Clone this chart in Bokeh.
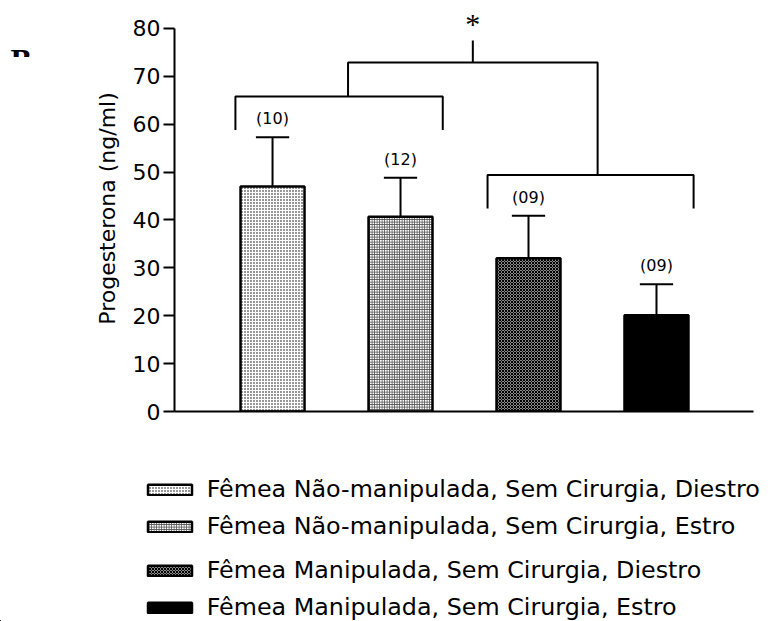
from bokeh.plotting import figure
from bokeh.layouts import column, row
from bokeh.models import (Range1d, FixedTicker, Legend, LegendItem,
                          ColumnDataSource)
from bokeh.core.properties import value
from bokeh.embed import file_html
from bokeh.resources import INLINE

# Serum progesterone per group (mean and SEM), with group sizes
groups = [
    "Fêmea Não-manipulada, Sem Cirurgia, Diestro",
    "Fêmea Não-manipulada, Sem Cirurgia, Estro",
    "Fêmea Manipulada, Sem Cirurgia, Diestro",
    "Fêmea Manipulada, Sem Cirurgia, Estro",
]
means = [47.0, 40.7, 32.0, 20.1]
sems = [10.3, 8.1, 8.9, 6.5]
n_labels = ["(10)", "(12)", "(09)", "(09)"]
y_ticks = [0, 10, 20, 30, 40, 50, 60, 70, 80]

FONT = "DejaVu Sans"
xs = [1, 2, 3, 4]
tops = [m + s for m, s in zip(means, sems)]

bar_styles = [
    dict(fill_color="white", hatch_pattern="dot", hatch_scale=3,
         hatch_weight=1, hatch_color="black"),
    dict(fill_color="white", hatch_pattern="cross", hatch_scale=2.5,
         hatch_weight=1, hatch_color="#555555"),
    dict(fill_color="#888888", hatch_pattern="diagonal_cross", hatch_scale=3,
         hatch_weight=1, hatch_color="black"),
    dict(fill_color="black"),
]

# ---- panel letter, cut by its own frame edge ----
pb = figure(frame_width=60, frame_height=57, output_backend="svg",
            toolbar_location=None, x_range=Range1d(0, 60),
            y_range=Range1d(57, 0), x_axis_type=None, y_axis_type=None,
            min_border=0, title=None)
pb.outline_line_color = None
pb.xgrid.visible = False
pb.ygrid.visible = False
pb.text(x=[10], y=[36.5], text=["B"], text_font=value("Liberation Serif"),
        text_font_style="bold", text_font_size="32px", text_align="left",
        text_baseline="top", text_color="black")

# ---- main bar chart ----
p = figure(width=711, height=430, output_backend="svg", toolbar_location=None,
           x_range=Range1d(0.234, 4.758), y_range=Range1d(0, 84.8),
           min_border_left=114, min_border_right=18, min_border_top=5,
           min_border_bottom=19)
p.outline_line_color = None
p.xgrid.visible = False
p.ygrid.visible = False

p.yaxis.ticker = FixedTicker(ticks=y_ticks)
p.yaxis.bounds = (0, 80)
p.yaxis.axis_line_width = 2
p.yaxis.major_tick_line_width = 2
p.yaxis.major_tick_out = 11
p.yaxis.major_tick_in = 0
p.yaxis.minor_tick_line_color = None
p.yaxis.major_label_text_font = FONT
p.yaxis.major_label_text_font_size = "22px"
p.yaxis.major_label_text_color = "black"
p.yaxis.major_label_standoff = 3
p.yaxis.axis_label = "Progesterona (ng/ml)"
p.yaxis.axis_label_text_font = FONT
p.yaxis.axis_label_text_font_size = "22px"
p.yaxis.axis_label_text_font_style = "normal"
p.yaxis.axis_label_text_color = "black"
p.yaxis.axis_label_standoff = 10

p.xaxis.ticker = FixedTicker(ticks=[])
p.xaxis.axis_line_width = 2
p.xaxis.major_tick_line_color = None
p.xaxis.minor_tick_line_color = None
p.xaxis.major_label_text_font_size = "0px"
p.xaxis.major_label_standoff = 0

for i in range(4):
    src = ColumnDataSource(dict(x=[xs[i]], top=[means[i]]))
    p.vbar(x="x", top="top", bottom=0, width=0.5, source=src,
           line_color="black", line_width=2.5, **bar_styles[i])

# upper error bars with caps
p.segment(x0=xs, y0=means, x1=xs, y1=tops, line_color="black", line_width=2)
p.segment(x0=[x - 0.13 for x in xs], y0=tops, x1=[x + 0.13 for x in xs],
          y1=tops, line_color="black", line_width=2)

# group sizes above the error bars
p.text(x=xs, y=tops, text=n_labels, text_font=value(FONT),
       text_font_size="16px", text_align="center", text_baseline="bottom",
       y_offset=-9, text_color="black")

# comparison brackets
lb_low = max(tops[0:2]) + 1.5
lb_high = lb_low + 7
lb_l, lb_r = xs[0] - 0.29, xs[1] + 0.33
rb_low = max(tops[2:4]) + 1.5
rb_high = rb_low + 7
rb_l, rb_r = xs[2] - 0.32, xs[3] + 0.29
tb_y = lb_high + 7.1
tb_l = (lb_l + lb_r) / 2 + 0.07
tb_r = (rb_l + rb_r) / 2 + 0.055
star_x = (tb_l + tb_r) / 2
stick_top = tb_y + 4.6

p.multi_line(
    xs=[[lb_l, lb_l, lb_r, lb_r],
        [rb_l, rb_l, rb_r, rb_r],
        [tb_l, tb_l, tb_r, tb_r],
        [star_x, star_x]],
    ys=[[lb_low, lb_high, lb_high, lb_low],
        [rb_low, rb_high, rb_high, rb_low],
        [lb_high, tb_y, tb_y, rb_high],
        [tb_y, stick_top]],
    line_color="black", line_width=2)

p.text(x=[star_x], y=[stick_top], text=["*"], text_font=value("Liberation Serif"),
       text_font_size="30px", text_align="center", text_baseline="alphabetic",
       y_offset=-17, text_color="black")

# ---- legend strip ----
pl = figure(width=771, height=191, output_backend="svg", toolbar_location=None,
            x_range=Range1d(0, 771), y_range=Range1d(0, 191),
            x_axis_type=None, y_axis_type=None, min_border=0)
pl.outline_line_color = None
pl.xgrid.visible = False
pl.ygrid.visible = False

row_bottoms = [118, 81, 37, 0]
for i in range(4):
    # keyed swatch glyph, parked far outside the visible range
    offstage = ColumnDataSource(dict(x=[-5000], top=[-5000]))
    r = pl.vbar(x="x", top="top", bottom=-5001, width=0.5, source=offstage,
                line_color="black", line_width=2.5, **bar_styles[i])
    lg = Legend(items=[LegendItem(label=groups[i], renderers=[r])],
                location=(141.7, row_bottoms[i]), glyph_width=55,
                glyph_height=13, label_standoff=10, padding=0, margin=0,
                spacing=0, border_line_color=None, background_fill_alpha=0,
                label_text_font=FONT, label_text_font_size="23.8px",
                label_text_color="black")
    pl.add_layout(lg, "center")

layout = column(row(pb, p, spacing=0), pl, spacing=0)
open("out.html", "w").write(file_html(layout, INLINE))
